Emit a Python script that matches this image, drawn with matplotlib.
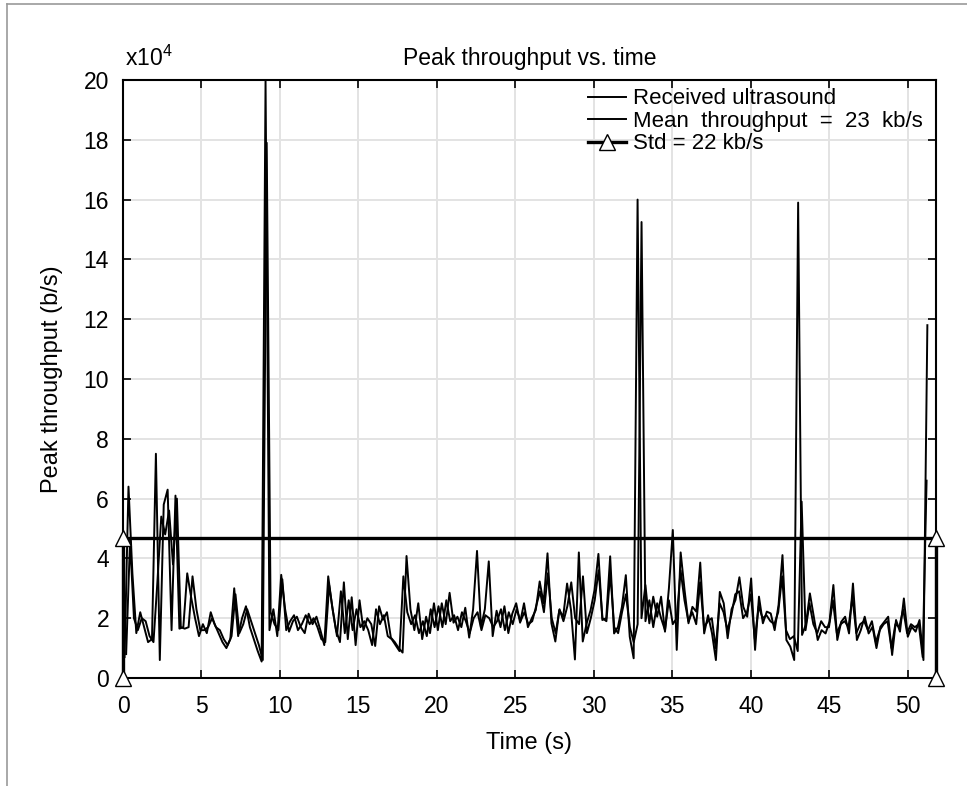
import numpy as np
import matplotlib.pyplot as plt
from matplotlib.ticker import FuncFormatter
from matplotlib.lines import Line2D

plt.rcParams['font.family'] = ['Liberation Sans', 'DejaVu Sans']
plt.rcParams['mathtext.default'] = 'regular'

# received ultrasound peak throughput (x10^4 b/s), sampled from 0.1 s to 51.25 s
received = [
    0.7, 6.4, 3.5, 1.5, 2.2, 1.7, 1.2, 1.3, 7.5, 0.6, 5.8, 6.3, 1.6, 6.1, 1.65, 1.7, 3.5, 2.7, 2.0, 1.4,
    1.8, 1.5, 2.2, 1.8, 1.5, 1.2, 1.0, 1.3, 3.0, 1.4, 2.0, 2.4, 1.7, 1.3, 0.9, 0.55, 20.0, 1.6, 2.3, 1.4,
    3.45, 2.3, 1.55, 1.9, 2.05, 1.7, 1.5, 2.15, 1.8, 2.05, 1.6, 1.1, 3.4, 2.4, 1.6, 1.2, 3.2, 1.3, 2.7, 1.1,
    2.6, 1.6, 2.0, 1.8, 1.07, 2.4, 1.95, 2.2, 1.35, 1.2, 1.0, 0.85, 4.08, 2.3, 1.6, 2.5, 1.3, 2.05, 1.5, 2.5,
    1.6, 2.5, 1.8, 2.85, 1.85, 2.05, 1.7, 2.35, 1.35, 2.3, 4.25, 1.7, 2.3, 3.9, 1.4, 2.25, 1.7, 2.4, 1.5, 2.15,
    2.5, 1.85, 2.5, 1.7, 2.0, 2.27, 3.23, 2.5, 4.17, 1.83, 1.22, 2.27, 2.05, 3.16, 2.27, 0.62, 4.2, 1.22, 1.83, 2.27,
    2.94, 4.15, 1.94, 2.0, 4.07, 1.49, 1.71, 2.38, 3.44, 1.38, 0.66, 16.0, 2.0, 3.11, 1.83, 2.72, 2.05, 2.72, 1.55, 3.0,
    4.95, 0.94, 4.2, 2.94, 1.83, 2.38, 2.22, 3.86, 1.49, 2.1, 1.5, 0.6, 2.88, 2.5, 1.33, 2.3, 2.61, 3.37, 2.38, 2.05,
    3.33, 0.94, 2.72, 1.83, 2.22, 2.16, 1.6, 2.44, 4.11, 1.27, 1.05, 0.6, 15.9, 1.44, 1.8, 2.83, 2.05, 1.27, 1.6, 1.49,
    1.88, 3.11, 1.27, 1.88, 2.05, 1.49, 3.16, 1.27, 1.6, 2.05, 1.49, 1.71, 1.0, 1.71, 1.88, 2.05, 0.77, 1.94, 1.55, 2.66,
    1.38, 1.71, 1.55, 1.94, 0.6, 11.8,
]

# second trace (x10^4 b/s), sampled from 0.2 s to 51.2 s
mean_trace = [
    0.8, 4.6, 2.0, 1.6, 2.0, 1.9, 1.4, 1.2, 3.2, 5.4, 4.8, 5.6, 3.8, 6.0, 1.7, 1.65, 1.7, 3.4, 2.3, 1.6,
    1.6, 1.7, 2.0, 1.7, 1.6, 1.3, 1.1, 1.4, 2.8, 1.5, 1.8, 2.3, 1.9, 1.5, 1.1, 0.6, 17.9, 2.2, 1.8, 1.6,
    3.3, 1.6, 1.9, 2.1, 1.6, 1.8, 2.1, 1.8, 2.0, 1.7, 1.3, 1.2, 3.1, 2.2, 1.4, 2.9, 1.5, 2.6, 1.6, 2.3,
    1.7, 1.9, 1.6, 1.1, 2.3, 1.8, 2.1, 1.4, 1.3, 1.1, 0.9, 3.4, 2.2, 1.8, 2.1, 1.5, 1.9, 1.4, 2.3, 1.7,
    2.4, 1.7, 2.6, 1.9, 2.1, 1.6, 2.2, 1.9, 1.5, 2.0, 2.2, 1.6, 2.1, 2.0, 1.7, 1.9, 2.3, 1.6, 2.2, 1.8,
    2.3, 1.9, 2.2, 1.8, 1.9, 2.4, 2.9, 2.2, 3.5, 2.0, 1.5, 2.3, 1.9, 2.4, 3.2, 2.0, 1.8, 3.4, 1.5, 2.0,
    2.6, 3.6, 2.0, 1.9, 3.5, 1.7, 1.5, 2.2, 2.8, 1.7, 1.2, 1.8, 15.25, 1.9, 2.6, 1.7, 2.5, 2.0, 1.6, 2.6,
    1.8, 2.0, 3.6, 2.6, 1.9, 2.2, 1.8, 3.2, 1.7, 1.9, 2.0, 1.0, 2.5, 2.2, 1.6, 2.1, 2.8, 2.9, 2.0, 2.2,
    2.8, 1.3, 2.4, 2.0, 2.1, 1.9, 1.8, 2.2, 3.4, 1.6, 1.3, 1.4, 0.9, 5.9, 1.6, 2.5, 1.8, 1.5, 1.9, 1.7,
    1.7, 2.6, 1.5, 1.8, 1.9, 1.7, 2.7, 1.5, 1.8, 1.9, 1.6, 1.9, 1.2, 1.6, 1.8, 1.9, 1.0, 1.8, 1.7, 2.3,
    1.5, 1.8, 1.7, 1.8, 0.7, 6.6,
]

t_end = 51.8
std_level = 4.68  # x10^4 b/s
std_x = [0, 0, t_end, t_end]
std_y = [0, std_level, std_level, 0]

t_a = np.linspace(0.1, 51.25, len(received))
t_b = np.linspace(0.2, 51.2, len(mean_trace))

fig = plt.figure(figsize=(9.67, 7.86), dpi=100)
ax = fig.add_axes([123 / 967, 1 - 678 / 786, 813 / 967, 598 / 786])

ax.plot(t_a, np.array(received) * 1e4, color='k', lw=1.4, label='Received ultrasound')
ax.plot(t_b, np.array(mean_trace) * 1e4, color='k', lw=1.4, label='Mean  throughput  =  23  kb/s')
ax.plot(std_x, np.array(std_y) * 1e4, color='k', lw=2.4, marker='^', ms=11,
        mfc='white', mec='k', mew=1.0, clip_on=False, zorder=5, label='Std = 22 kb/s')

ax.set_xlim(0, t_end)
ax.set_ylim(0, 20e4)
ax.set_xticks(np.arange(0, 51, 5))
ax.set_yticks(np.arange(0, 20.1e4, 2e4))
ax.yaxis.set_major_formatter(FuncFormatter(lambda v, p: f'{v / 1e4:.0f}'))
ax.grid(True, color='#e3e3e3', lw=1.4)
ax.set_axisbelow(True)
ax.tick_params(direction='in', top=True, right=True, length=6, width=1.2,
               labelsize=16.5, colors='k')
ax.tick_params(axis='y', pad=10)
ax.tick_params(axis='x', pad=12)
for s in ax.spines.values():
    s.set_linewidth(1.5)

ax.set_title('Peak throughput vs. time', fontsize=16.5, pad=11)
ax.set_xlabel('Time (s)', fontsize=17, labelpad=10)
ax.set_ylabel('Peak throughput (b/s)', fontsize=17, labelpad=15)
ax.text(0.003, 1.015, r'x10$^{4}$', transform=ax.transAxes, fontsize=16.5, ha='left', va='bottom')

ax.legend(loc='upper left', bbox_to_anchor=(0.553, 1.012), frameon=False, fontsize=16,
          handlelength=1.7, handletextpad=0.3, labelspacing=0.07, borderpad=0.2)

# grey frame around the figure, as in the exported window
fig.add_artist(Line2D([7 / 967, 7 / 967], [0, 1 - 4 / 786], color='#999999', lw=1.2))
fig.add_artist(Line2D([7 / 967, 1], [1 - 4 / 786, 1 - 4 / 786], color='#999999', lw=1.2))

fig.savefig('out.png', dpi=100)
